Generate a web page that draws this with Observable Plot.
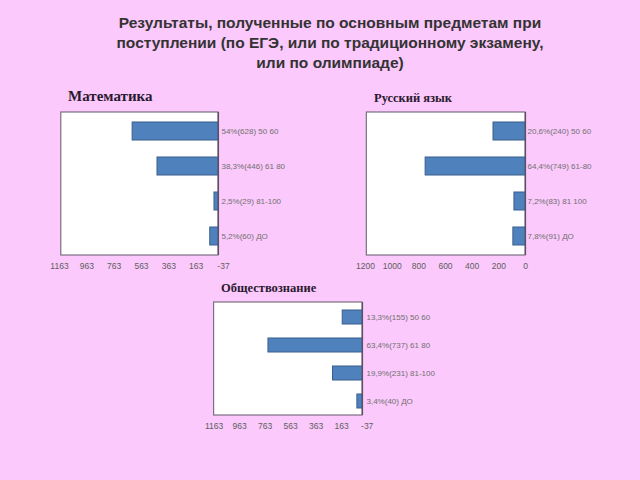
<!DOCTYPE html>
<html>
<head>
<meta charset="utf-8">
<script src="https://cdn.jsdelivr.net/npm/d3@7"></script>
<script src="https://cdn.jsdelivr.net/npm/@observablehq/plot@0.6"></script>
<style>
  html, body { margin: 0; padding: 0; background: #FBC9FB; }
  #root { position: relative; width: 640px; height: 480px; background: #FBC9FB; overflow: hidden; }
  #title { position: absolute; left: 30px; width: 600px; top: 13px; text-align: center;
           font-family: "Liberation Sans", Arial, sans-serif; font-weight: bold; font-size: 15.5px;
           line-height: 20px; color: #333; }
  .ctitle { position: absolute; font-family: "Liberation Serif", "Times New Roman", serif; font-weight: bold;
            color: #2a1a30; white-space: nowrap; }
  .chart { position: absolute; }
</style>
</head>
<body>
<div id="root">
  <div id="title">Результаты, полученные по основным предметам при<br>поступлении (по ЕГЭ, или по традиционному экзамену,<br>или по олимпиаде)</div>
</div>
<script>
// ---- data ----
const categories = ["50-60", "61-80", "81-100", "ДО"];

const mathTitle = "Математика";
const mathValues = [628, 446, 29, 60];
const mathLabels = ["54%(628) 50 60", "38,3%(446) 61 80", "2,5%(29) 81-100", "5,2%(60) ДО"];
const mathTicks = [1163, 963, 763, 563, 363, 163, -37];

const rusTitle = "Русский язык";
const rusValues = [240, 749, 83, 91];
const rusLabels = ["20,6%(240) 50 60", "64,4%(749) 61-80", "7,2%(83) 81 100", "7,8%(91) ДО"];
const rusTicks = [1200, 1000, 800, 600, 400, 200, 0];

const socTitle = "Обществознание";
const socValues = [155, 737, 231, 40];
const socLabels = ["13,3%(155) 50 60", "63,4%(737) 61 80", "19,9%(231) 81-100", "3,4%(40) ДО"];
const socTicks = [1163, 963, 763, 563, 363, 163, -37];

// ---- drawing ----
const root = document.getElementById("root");

function makeChart(cfg) {
  const rows = categories.map((c, i) => ({cat: c, value: cfg.values[i], label: cfg.labels[i]}));
  const lo = d3.max(cfg.ticks), hi = d3.min(cfg.ticks);
  const plot = Plot.plot({
    width: cfg.width,
    height: cfg.height,
    marginLeft: cfg.ml,
    marginRight: cfg.mr,
    marginTop: cfg.mt,
    marginBottom: cfg.mb,
    style: {background: "transparent", fontFamily: "\"Liberation Sans\", Arial, sans-serif", overflow: "visible"},
    x: {domain: [lo, hi], label: null},
    y: {domain: categories, paddingInner: 0.5, paddingOuter: 0.25, axis: null},
    marks: [
      Plot.rect([0], {x1: () => cfg.frameLeft, x2: () => 0, fill: "white", stroke: "#7b7080", strokeWidth: 1.2}),
      Plot.barX(rows, {x: "value", y: "cat", fill: "#4F81BD", stroke: "#3A5F8E", strokeWidth: 1}),
      Plot.ruleX([0], {stroke: "#5a5060", strokeWidth: 1.2}),
      Plot.text(rows, {x: () => 0, y: "cat", text: "label", textAnchor: "start", dx: cfg.dx,
                       fontSize: 8, fill: "#707070"}),
      Plot.axisX({ticks: cfg.ticks, tickSize: 0, tickPadding: 7, tickFormat: d => String(d),
                  fontSize: 8.5, fill: "#606060", label: null})
    ]
  });
  plot.classList.add("chart");
  plot.style.left = cfg.left + "px";
  plot.style.top = cfg.top + "px";
  root.appendChild(plot);

  const t = document.createElement("div");
  t.className = "ctitle";
  t.textContent = cfg.title;
  t.style.left = cfg.tx + "px";
  t.style.top = cfg.ty + "px";
  t.style.fontSize = cfg.tfs + "px";
  root.appendChild(t);
}

makeChart({title: mathTitle, values: mathValues, labels: mathLabels, ticks: mathTicks, frameLeft: 1150,
  left: 40, top: 100, width: 300, height: 175, ml: 19, mr: 117, mt: 12, mb: 20, dx: 3,
  tx: 68, ty: 88, tfs: 15});

makeChart({title: rusTitle, values: rusValues, labels: rusLabels, ticks: rusTicks, frameLeft: 1190,
  left: 345, top: 100, width: 290, height: 175, ml: 20, mr: 110, mt: 12, mb: 20, dx: 2,
  tx: 374, ty: 91, tfs: 12.5});

makeChart({title: socTitle, values: socValues, labels: socLabels, ticks: socTicks, frameLeft: 1163,
  left: 195, top: 290, width: 270, height: 145, ml: 18.6, mr: 98.3, mt: 12, mb: 20, dx: 4,
  tx: 221, ty: 281, tfs: 12.5});
</script>
</body>
</html>
